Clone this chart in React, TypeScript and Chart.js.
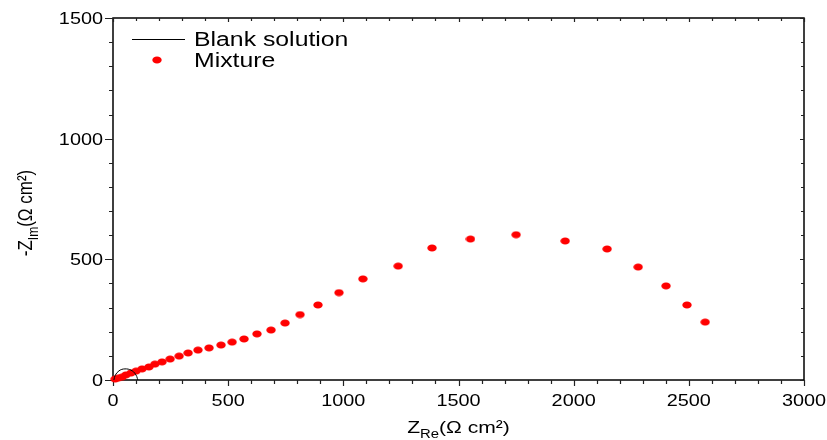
import React, { useEffect, useRef } from "react";
import { Chart, registerables } from "chart.js";

Chart.register(...registerables);

// ---- data ----
const blankRe = [4, 6, 10, 17, 26, 38, 52, 66, 78, 89, 97, 103, 106, 108];
const blankIm = [0, 10, 20, 30, 38, 44, 46, 45, 41, 34, 25, 15, 6, 0];

const mixRe = [
  9, 22, 39, 56, 78, 100, 126, 156, 182, 213, 248, 287, 326, 369, 417, 469, 517, 569, 625, 686,
  747, 812, 890, 981, 1085, 1238, 1385, 1552, 1750, 1963, 2145, 2280, 2401, 2492, 2571,
];
const mixIm = [
  4, 8, 12, 21, 29, 37, 46, 54, 66, 75, 87, 99, 112, 124, 133, 145, 157, 170, 191, 207,
  236, 271, 311, 362, 419, 472, 547, 584, 602, 576, 543, 468, 390, 311, 240,
];

const xTickLabels = [0, 500, 1000, 1500, 2000, 2500, 3000];
const yTickLabels = [0, 500, 1000, 1500];
const minorStep = 100;
const seriesNames = ["Blank solution", "Mixture"];

const FONT = '"Liberation Sans", Arial, sans-serif';
const SX = 1.24;

function makeDot(): HTMLCanvasElement {
  const c = document.createElement("canvas");
  c.width = 10;
  c.height = 8;
  const g = c.getContext("2d")!;
  g.fillStyle = "#ff0000";
  g.beginPath();
  g.ellipse(5, 4, 4.7, 3.5, 0, 0, Math.PI * 2);
  g.fill();
  return c;
}

function stretchedText(
  ctx: CanvasRenderingContext2D,
  s: string,
  x: number,
  y: number,
  size: number,
  align: CanvasTextAlign
) {
  ctx.save();
  ctx.translate(x, y);
  ctx.scale(SX, 1);
  ctx.font = `${size}px ${FONT}`;
  ctx.textAlign = align;
  ctx.textBaseline = "alphabetic";
  ctx.fillText(s, 0, 0);
  ctx.restore();
}

type Part = [string, number, number];

function richWidth(ctx: CanvasRenderingContext2D, parts: Part[]) {
  let w = 0;
  for (const [t, s] of parts) {
    ctx.font = `${s}px ${FONT}`;
    w += ctx.measureText(t).width;
  }
  return w;
}

function drawRich(ctx: CanvasRenderingContext2D, parts: Part[]) {
  let x = 0;
  for (const [t, s, dy] of parts) {
    ctx.font = `${s}px ${FONT}`;
    ctx.fillText(t, x, dy);
    x += ctx.measureText(t).width;
  }
}

const decorPlugin = {
  id: "decor",
  beforeDatasetsDraw(chart: any) {
    const ctx: CanvasRenderingContext2D = chart.ctx;
    const { left, right, top, bottom } = chart.chartArea;
    const xs = chart.scales.x;
    const ys = chart.scales.y;
    ctx.save();
    ctx.strokeStyle = "#000";
    ctx.lineWidth = 1.5;
    ctx.strokeRect(left, top, right - left, bottom - top);

    ctx.lineWidth = 1.2;
    ctx.strokeStyle = "#222";
    const xMax = xTickLabels[xTickLabels.length - 1];
    const yMax = yTickLabels[yTickLabels.length - 1];
    for (let v = 0; v <= xMax; v += minorStep) {
      const px = Math.round(xs.getPixelForValue(v)) + 0.5;
      const major = v % 500 === 0;
      ctx.beginPath();
      ctx.moveTo(px, bottom);
      ctx.lineTo(px, bottom + (major ? 6 : 4));
      ctx.moveTo(px, top);
      ctx.lineTo(px, top + (major ? 4 : 3));
      ctx.stroke();
    }
    for (let v = 0; v <= yMax; v += minorStep) {
      const py = Math.round(ys.getPixelForValue(v)) + 0.5;
      const major = v % 500 === 0;
      ctx.beginPath();
      ctx.moveTo(left, py);
      ctx.lineTo(left - (major ? 8 : 4), py);
      ctx.moveTo(right, py);
      ctx.lineTo(right - (major ? 4 : 3), py);
      ctx.stroke();
    }
    ctx.restore();
  },
  afterDraw(chart: any) {
    const ctx: CanvasRenderingContext2D = chart.ctx;
    const { left, right, top, bottom } = chart.chartArea;
    const xs = chart.scales.x;
    const ys = chart.scales.y;
    ctx.save();
    ctx.fillStyle = "#000";
    // tick labels
    for (const v of xTickLabels) {
      stretchedText(ctx, String(v), xs.getPixelForValue(v), bottom + 26, 16, "center");
    }
    for (const v of yTickLabels) {
      stretchedText(ctx, String(v), left - 10, ys.getPixelForValue(v) + 6, 16, "right");
    }

    // x title
    const xParts: Part[] = [
      ["Z", 17, 0],
      ["Re", 12, 5],
      ["(\u03A9 cm\u00B2)", 17, 0],
    ];
    ctx.textBaseline = "alphabetic";
    ctx.textAlign = "left";
    const xw = richWidth(ctx, xParts) * SX;
    ctx.save();
    ctx.translate((left + right) / 2 - xw / 2, 433);
    ctx.scale(SX, 1);
    drawRich(ctx, xParts);
    ctx.restore();

    // y title
    const yParts: Part[] = [
      ["-Z", 17, 0],
      ["Im", 12, 5],
      ["(\u03A9 cm\u00B2)", 17, 0],
    ];
    const yw = richWidth(ctx, yParts);
    ctx.save();
    ctx.translate(32, 213 + yw / 2);
    ctx.rotate(-Math.PI / 2);
    ctx.scale(1, SX);
    drawRich(ctx, yParts);
    ctx.restore();

    // legend
    const ds0 = chart.data.datasets[0];
    const ds1 = chart.data.datasets[1];
    ctx.strokeStyle = ds0.borderColor;
    ctx.lineWidth = 1;
    ctx.beginPath();
    ctx.moveTo(132, 39.5);
    ctx.lineTo(185, 39.5);
    ctx.stroke();
    stretchedText(ctx, ds0.label, 194, 46, 20, "left");
    ctx.drawImage(ds1.pointStyle, 157 - 5, 60 - 4);
    stretchedText(ctx, ds1.label, 194, 67, 20, "left");
    ctx.restore();
  },
};

export default function App() {
  const ref = useRef<HTMLCanvasElement | null>(null);
  useEffect(() => {
    document.body.style.margin = "0";
    const dot = makeDot();
    const chart = new Chart(ref.current!, {
      type: "scatter",
      data: {
        datasets: [
          {
            label: seriesNames[0],
            data: blankRe.map((x, i) => ({ x, y: blankIm[i] })),
            showLine: true,
            borderColor: "#000000",
            borderWidth: 1,
            pointRadius: 0,
            tension: 0.35,
            clip: false,
          },
          {
            label: seriesNames[1],
            data: mixRe.map((x, i) => ({ x, y: mixIm[i] })),
            showLine: false,
            pointStyle: dot as any,
            pointRadius: 4,
            backgroundColor: "#ff0000",
            borderWidth: 0,
            clip: false,
          },
        ],
      } as any,
      options: {
        animation: false,
        responsive: false,
        events: [],
        layout: { padding: { left: 113, right: 23, top: 18, bottom: 60 } },
        plugins: { legend: { display: false }, tooltip: { enabled: false } },
        scales: {
          x: { type: "linear", display: false, min: 0, max: 3000 },
          y: { type: "linear", display: false, min: 0, max: 1500 },
        },
      },
      plugins: [decorPlugin],
    });
    return () => chart.destroy();
  }, []);
  return (
    <div style={{ width: 827, height: 440 }}>
      <canvas ref={ref} width={827} height={440} style={{ display: "block" }} />
    </div>
  );
}
